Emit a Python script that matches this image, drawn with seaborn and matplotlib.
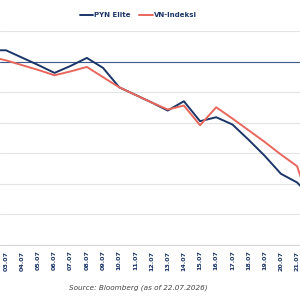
import matplotlib
matplotlib.use("Agg")
import matplotlib.pyplot as plt
import seaborn as sns
import pandas as pd
from matplotlib.lines import Line2D

# daily values (relative %), 02.07 and 22.07 sit just outside the visible area
dates = ["02.07", "03.07", "04.07", "05.07", "06.07", "07.07", "08.07", "09.07",
         "10.07", "11.07", "12.07", "13.07", "14.07", "15.07", "16.07", "17.07",
         "18.07", "19.07", "20.07", "21.07", "22.07"]
pyn_elite = [1.85, 1.85, 0.64, -0.57, -1.85, -0.70, 0.60, -1.03, -4.20, -5.44,
             -6.68, -8.01, -6.49, -9.75, -9.10, -10.29, -12.78, -15.42, -18.35,
             -19.77, -22.5]
vn_index = [0.82, 0.20, -0.59, -1.37, -2.24, -1.60, -0.87, -2.55, -4.20, -5.44,
            -6.68, -7.84, -7.19, -10.41, -7.47, -9.31, -11.23, -13.15, -15.20,
            -17.11, -25.0]
series_names = ["PYN Elite", "VN-Indeksi"]
colors = ["#1b3567", "#e8675d"]

pos = list(range(-1, len(dates) - 1))
df = pd.DataFrame({
    "pos": pos * 2,
    "value": pyn_elite + vn_index,
    "series": [series_names[0]] * len(dates) + [series_names[1]] * len(dates),
})

sns.set_style("white")
plt.rcParams["font.family"] = ["DejaVu Sans"]

fig = plt.figure(figsize=(3, 3), dpi=100)
ax = fig.add_axes([0, 0.1833, 1, 0.7133])

ax.axhline(0, color="#3d5a8e", lw=0.8, zorder=1)
sns.lineplot(data=df, x="pos", y="value", hue="series", palette=colors,
             linewidth=1.4, ax=ax, legend=False, zorder=3)

ax.set_xlim(-0.371, 18.18)
ax.set_ylim(-30, 5)
ax.set_yticks(range(-30, 6, 5))
ax.set_yticklabels([])
ax.tick_params(axis="y", length=0)
ax.grid(axis="y", color="#e4e4e4", lw=0.8)
ax.set_axisbelow(True)

ax.set_xticks(pos[1:-1])
ax.set_xticklabels(dates[1:-1], rotation=90, fontsize=4.6, color="#1b3567",
                   fontweight="bold")
ax.tick_params(axis="x", length=0, pad=4)
ax.set_xlabel("")
ax.set_ylabel("")

for side in ["top", "left", "right"]:
    ax.spines[side].set_visible(False)
ax.spines["bottom"].set_color("#d8d8d8")
ax.spines["bottom"].set_linewidth(0.8)

handles = [Line2D([0], [0], color=c, lw=1.4) for c in colors]
fig.legend(handles, series_names, loc="center", bbox_to_anchor=(0.46, 0.95),
           ncol=2, frameon=False, handlelength=2.0, handletextpad=0.1,
           columnspacing=1.2, labelcolor="#1b3567",
           prop={"size": 5.0, "weight": "bold"})

fig.text(0.46, 0.04, "Source: Bloomberg (as of 22.07.2026)", ha="center",
         va="center", fontsize=5.2, style="italic", color="#444444")

fig.savefig("out.png", dpi=100)
